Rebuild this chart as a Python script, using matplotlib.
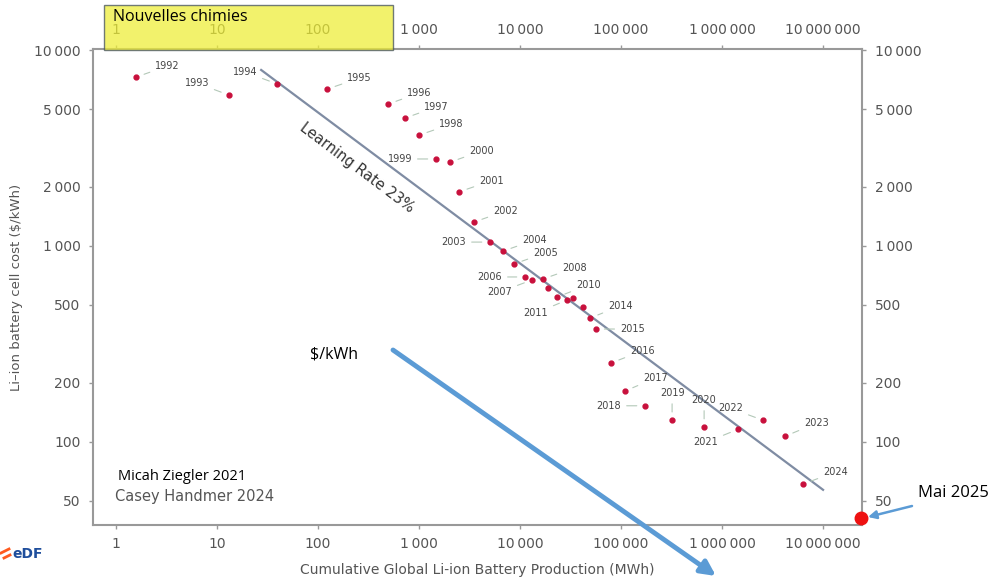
import matplotlib
matplotlib.use("Agg")
import matplotlib.pyplot as plt
from matplotlib.ticker import FixedLocator, FuncFormatter, NullLocator
from matplotlib.patches import Rectangle, FancyArrowPatch
from matplotlib.lines import Line2D

# cumulative production (MWh) and cell cost ($/kWh)
years = [1992, 1993, 1994, 1995, 1996, 1997, 1998, 1999, 2000, 2001, 2002, 2003,
         2004, 2005, 2006, 2007, 2008, 2009, 2010, 2011, 2012, 2013, 2014, 2015,
         2016, 2017, 2018, 2019, 2020, 2021, 2022, 2023, 2024]
production = [1.58, 13.1, 39.3, 123, 493, 727, 1000, 1470, 2030, 2490, 3500, 5050,
              6790, 8720, 11200, 13150, 16900, 18900, 23200, 29200, 33500, 42100, 49300, 56500,
              79600, 109600, 173000, 320000, 664000, 1440000, 2550000, 4210000, 6340000]
cost = [7280, 5890, 6710, 6320, 5300, 4500, 3680, 2780, 2680, 1890, 1325, 1047,
        942, 810, 695, 671, 679, 611, 549, 530, 543, 489, 429, 377,
        253, 182, 153, 129, 119, 116, 129, 107, 61]

# learning-rate fit line (end points)
fit_x = [27.3, 1.0e7]
fit_y = [7910, 57]

# May 2025 point
may_x = [2.4e7]
may_y = [41]

x_ticks = [1, 10, 100, 1000, 10000, 100000, 1000000, 10000000]
y_ticks = [50, 100, 200, 500, 1000, 2000, 5000, 10000]

# label offsets in pixels (dx, dy, ha)
label_pos = {
    1992: (19, 11, 'left'), 1993: (-20, 12, 'right'), 1994: (-20, 12, 'right'),
    1995: (20, 11, 'left'), 1996: (19, 11, 'left'), 1997: (19, 11, 'left'),
    1998: (20, 11, 'left'), 1999: (-24, 0, 'right'), 2000: (19, 11, 'left'),
    2001: (20, 11, 'left'), 2002: (19, 11, 'left'), 2003: (-24, 0, 'right'),
    2004: (19, 11, 'left'), 2005: (19, 11, 'left'), 2006: (-23, 0, 'right'),
    2007: (-20, -12, 'right'), 2008: (19, 11, 'left'), 2010: (19, 12, 'left'),
    2011: (-19, -13, 'right'), 2014: (18, 12, 'left'), 2015: (24, 0, 'left'),
    2016: (19, 12, 'left'), 2017: (18, 13, 'left'), 2018: (-24, 0, 'right'),
    2019: (0, 27, 'center'), 2020: (0, 27, 'center'), 2021: (-20, -13, 'right'),
    2022: (-20, 12, 'right'), 2023: (19, 13, 'left'), 2024: (20, 12, 'left'),
}

gray = '#555555'

fig = plt.figure(figsize=(9.98, 5.77), dpi=100)
ax = fig.add_axes([93 / 998, 1 - 525 / 577, 769 / 998, 476 / 577])
ax.set_xscale('log')
ax.set_yscale('log')
ax.set_xlim(0.59, 2.43e7)
ax.set_ylim(37.7, 10120)

ax.plot(fit_x, fit_y, color='#7f8ca3', lw=1.6, zorder=2)
ax.plot(production, cost, 'o', color='#c8103c', ms=3.5, zorder=3)

for yr, px, c in zip(years, production, cost):
    if yr not in label_pos:
        continue
    dx, dy, ha = label_pos[yr]
    ax.annotate(str(yr), (px, c), xytext=(dx, dy), textcoords='offset pixels',
                ha=ha, va='center', fontsize=7, color='#444444',
                arrowprops=dict(arrowstyle='-', color='#b3c8b8', lw=0.8,
                                shrinkA=2, shrinkB=6))

ax.text(357, 577 - 168, 'Learning Rate 23%', transform=None, rotation=-37,
        ha='center', va='center', fontsize=10.5, color='#333333')

fmt = FuncFormatter(lambda v, p: f"{int(round(v)):,}".replace(',', '\u2009'))
ax.xaxis.set_major_locator(FixedLocator(x_ticks))
ax.yaxis.set_major_locator(FixedLocator(y_ticks))
ax.xaxis.set_minor_locator(NullLocator())
ax.yaxis.set_minor_locator(NullLocator())
ax.xaxis.set_major_formatter(fmt)
ax.yaxis.set_major_formatter(fmt)
ax.tick_params(top=True, labeltop=True, right=True, labelright=True,
               length=3, width=1, color='#999999', labelcolor=gray,
               labelsize=10, pad=6)
for s in ax.spines.values():
    s.set_color('#999999')
    s.set_linewidth(1.5)

ax.set_xlabel('Cumulative Global Li-ion Battery Production (MWh)', fontsize=10,
              color=gray, labelpad=8)
ax.set_ylabel('Li\u2013ion battery cell cost ($/kWh)', fontsize=9.5, color=gray,
              labelpad=8)

ax.text(115, 577 - 497, 'Casey Handmer 2024', transform=None, fontsize=10.5,
        color=gray, va='center')

# overlays
ax.plot(may_x, may_y, 'o', color='#ee1111', ms=9, clip_on=False, zorder=5)

fig.add_artist(Rectangle((104 / 998, 1 - 50 / 577), 289 / 998, 45 / 577,
                         transform=fig.transFigure, facecolor='#eeee33',
                         edgecolor='#3c4a5a', lw=1, alpha=0.72, zorder=10))
fig.text(113 / 998, 1 - 17 / 577, 'Nouvelles chimies', fontsize=11.5,
         family='Open Sans', va='center', zorder=11)

fig.text(310 / 998, 1 - 355 / 577, '$/kWh', fontsize=11.5, family='Open Sans',
         va='center')
fig.add_artist(FancyArrowPatch((393, 577 - 350), (716, 577 - 576), transform=None,
                               arrowstyle='-|>', mutation_scale=22, color='#5b9bd5',
                               lw=3.5, shrinkA=0, shrinkB=0))

fig.text(918 / 998, 1 - 493 / 577, 'Mai 2025', fontsize=12, family='Open Sans',
         va='center')
fig.add_artist(FancyArrowPatch((912, 577 - 506), (868, 577 - 517), transform=None,
                               arrowstyle='-|>', mutation_scale=12, color='#5b9bd5',
                               lw=1.8, shrinkA=0, shrinkB=0))

fig.text(118 / 998, 1 - 477 / 577, 'Micah Ziegler 2021', fontsize=10.5,
         family='Open Sans', va='center')

# logo
fig.add_artist(Line2D([1 / 998, 9 / 998], [1 - 553 / 577, 1 - 549 / 577],
                      color='#ff5a1f', lw=2))
fig.add_artist(Line2D([4 / 998, 10 / 998], [1 - 558 / 577, 1 - 555 / 577],
                      color='#ff5a1f', lw=2))
fig.text(12 / 998, 1 - 554 / 577, 'eDF', fontsize=10, fontweight='bold',
         color='#1f4e9c', va='center')

fig.savefig('out.png', dpi=100)
